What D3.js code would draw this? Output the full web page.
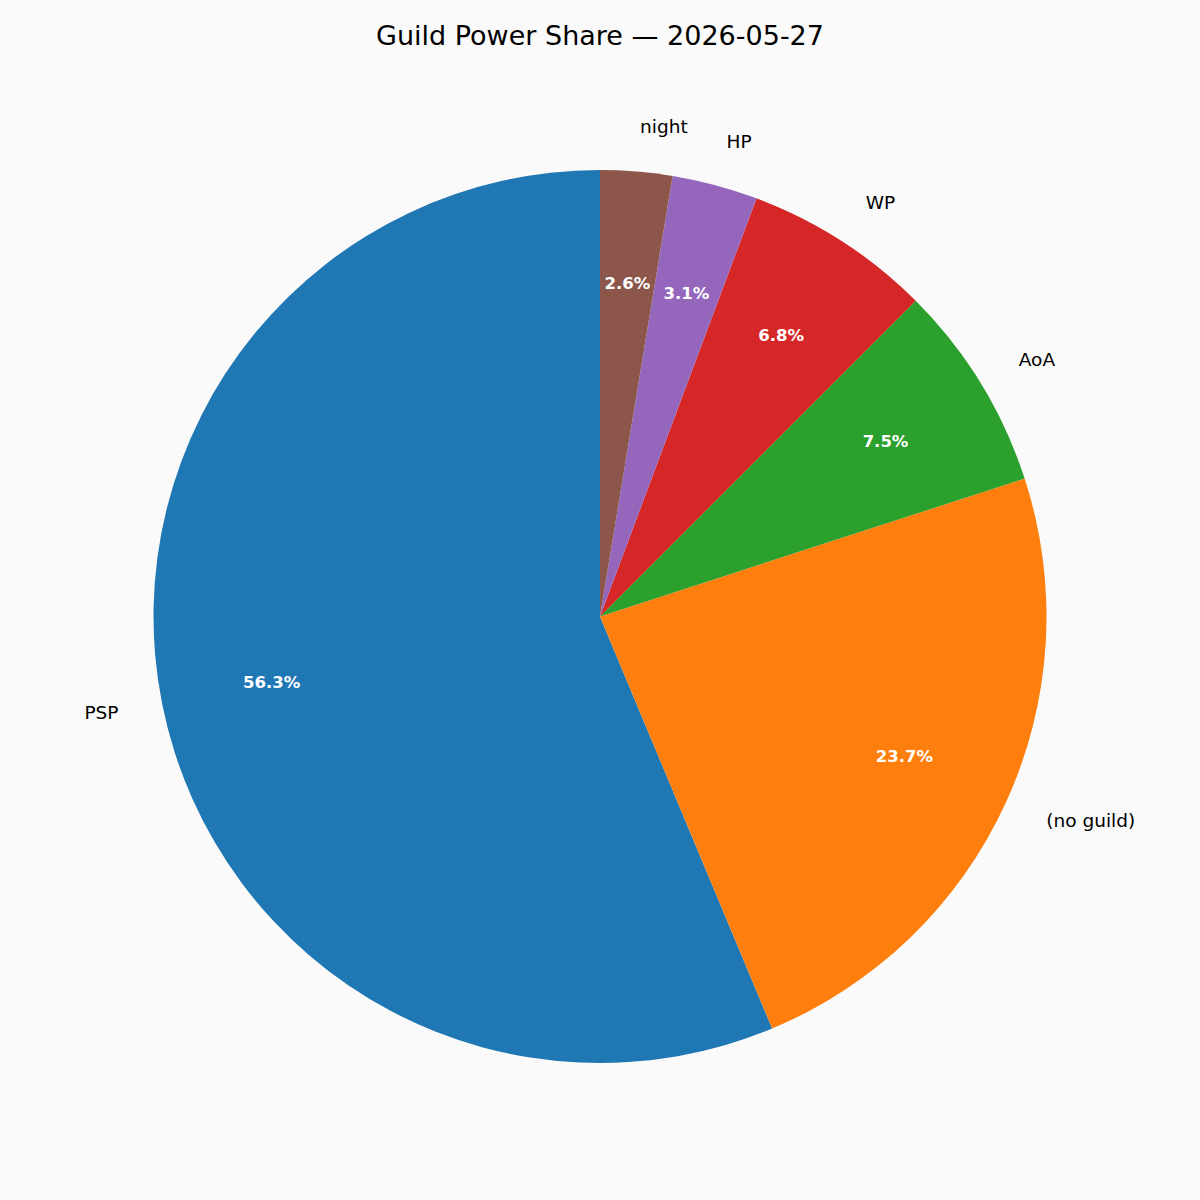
<!DOCTYPE html>
<html>
<head>
<meta charset="utf-8">
<script src="https://cdn.jsdelivr.net/npm/d3@7"></script>
<style>
  html, body { margin: 0; padding: 0; background: #fafafa; }
  svg { display: block; }
</style>
</head>
<body>
<svg id="chart" width="1200" height="1200"></svg>
<script>
const title = "Guild Power Share — 2026-05-27";
const categories = ["PSP", "(no guild)", "AoA", "WP", "HP", "night"];
const values = [56.3, 23.7, 7.5, 6.8, 3.1, 2.6];
const colors = ["#1f77b4", "#ff7f0e", "#2ca02c", "#d62728", "#9467bd", "#8c564b"];

const W = 1200, H = 1200;
const cx = 600, cy = 616.5, R = 446.5;
const labelDist = 1.1, pctDist = 0.75;

const svg = d3.select("#chart");
svg.append("rect").attr("width", W).attr("height", H).attr("fill", "#fafafa");

svg.append("text")
  .attr("x", 600).attr("y", 45)
  .attr("text-anchor", "middle")
  .attr("font-family", "DejaVu Sans")
  .attr("font-size", 27)
  .attr("fill", "#000")
  .text(title);

const data = categories.map((c, i) => ({ name: c, value: values[i], color: colors[i] }));
const total = d3.sum(values);

// matplotlib: startangle=90, counterclockwise -> d3: start 0, end -2π
const pie = d3.pie().value(d => d.value).sort(null).startAngle(0).endAngle(-2 * Math.PI);
const arcs = pie(data);
const arc = d3.arc().innerRadius(0).outerRadius(R);

const g = svg.append("g").attr("transform", `translate(${cx},${cy})`);

g.selectAll("path.slice")
  .data(arcs)
  .join("path")
  .attr("class", "slice")
  .attr("d", arc)
  .attr("fill", d => d.data.color);

function pos(d, k) {
  const a = (d.startAngle + d.endAngle) / 2;
  return [Math.sin(a) * R * k, -Math.cos(a) * R * k];
}

g.selectAll("text.lbl")
  .data(arcs)
  .join("text")
  .attr("class", "lbl")
  .attr("x", d => pos(d, labelDist)[0])
  .attr("y", d => pos(d, labelDist)[1])
  .attr("dy", "0.32em")
  .attr("text-anchor", d => pos(d, labelDist)[0] >= 0 ? "start" : "end")
  .attr("font-family", "DejaVu Sans")
  .attr("font-size", 18.5)
  .attr("fill", "#000")
  .text(d => d.data.name);

g.selectAll("text.pct")
  .data(arcs)
  .join("text")
  .attr("class", "pct")
  .attr("x", d => pos(d, pctDist)[0])
  .attr("y", d => pos(d, pctDist)[1])
  .attr("dy", "0.35em")
  .attr("text-anchor", "middle")
  .attr("font-family", "DejaVu Sans")
  .attr("font-weight", "bold")
  .attr("font-size", 16.5)
  .attr("fill", "#fff")
  .text(d => (d.data.value / total * 100).toFixed(1) + "%");
</script>
</body>
</html>
